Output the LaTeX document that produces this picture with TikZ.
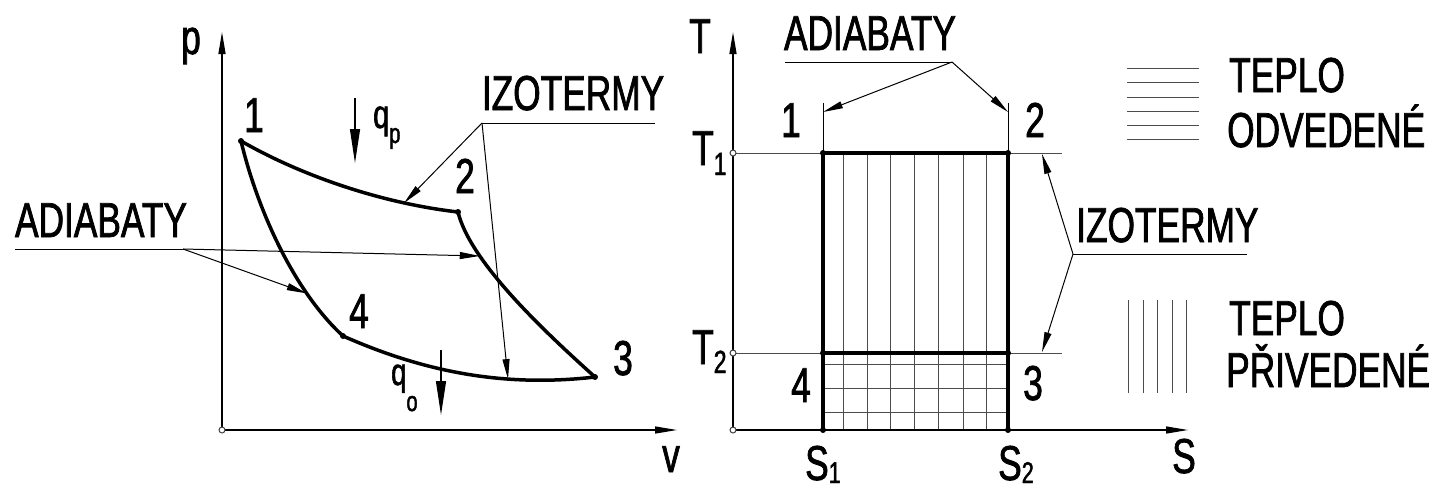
\documentclass[tikz,border=0pt]{standalone}
\usepackage{fontspec}
\setmainfont{Liberation Sans}[FakeStretch=0.72,FakeBold=1.5]
\usetikzlibrary{arrows.meta}
\newcommand\lowsub[3]{\raisebox{#1}[\height][0pt]{\fontsize{#2}{#2}\selectfont #3}}
\begin{document}
\begin{tikzpicture}[x=1pt,y=-1pt,
  lbl/.style={font=\fontsize{49}{55}\selectfont, inner sep=0pt, anchor=base},
  lblw/.style={lbl, anchor=base west},
  axis/.style={line width=1.3pt, -{Triangle[length=22pt,width=7pt]}},
  thinline/.style={line width=1pt},
  cyc/.style={line width=3.5pt, line cap=round},
  lead/.style={line width=1pt, -{Triangle[length=20pt,width=7pt]}},
  flow/.style={line width=1.3pt, -{Triangle[length=34pt,width=10pt]}},
  hatch/.style={line width=1pt, draw=black!70},
  dot/.style={circle, fill=black, inner sep=0pt, minimum size=7pt},
  odot/.style={circle, draw=black!75, fill=white, line width=1pt, inner sep=0pt, minimum size=7pt},
]
\useasboundingbox (0,0) rectangle (1431,488);

% ================= LEFT: p-v diagram =================
\coordinate (O1) at (222,430);
\coordinate (pTop) at (222,32);
\coordinate (vEnd) at (677,430);
\draw[axis] (O1) -- (pTop);
\draw[axis] (O1) -- (vEnd);

\coordinate (L1) at (241,141);
\coordinate (L2) at (458,212);
\coordinate (L3) at (595,377);
\coordinate (L4) at (343,336);

\draw[cyc] (L1) .. controls (300,175) and (380,203) .. (L2) coordinate[pos=0.77] (A12);
\draw[cyc] (L2) .. controls (470,262) and (545,332) .. (L3) coordinate[pos=0.27] (A23);
\draw[cyc] (L1) .. controls (258,212) and (295,292) .. (L4) coordinate[pos=0.73] (A14);
\draw[cyc] (L4) .. controls (420,370) and (500,388) .. (L3) coordinate[pos=0.68] (A43);

\node[odot, minimum size=6pt] (o1) at (O1) {};
\foreach \p in {L1,L2,L3,L4} \node[dot, minimum size=6pt] at (\p) {};

% leaders IZOTERMY (left)
\coordinate (K1) at (482,123);
\coordinate (K1e) at (655,123);
\draw[thinline] (K1) -- (K1e);
\draw[lead] (K1) -- (A12);
\draw[lead] (K1) -- (A43);
\node[lbl] (izoL) at (573,110) {IZOTERMY};

% leaders ADIABATY (left)
\coordinate (K2) at (183,249);
\coordinate (K2s) at (15,249);
\draw[thinline] (K2s) -- (K2);
\draw[lead] (K2) -- (A23);
\draw[lead] (K2) -- (A14);
\node[lbl] (adiL) at (101,237) {ADIABATY};

% heat arrows
\coordinate (qpS) at (355,98);
\coordinate (qpE) at (355,163);
\draw[flow] (qpS) -- (qpE);
\coordinate (qoS) at (441,350);
\coordinate (qoE) at (441,415);
\draw[flow] (qoS) -- (qoE);
\node[lblw, font=\fontsize{40}{44}\selectfont] (qp) at (373,128) {q\lowsub{-15pt}{28}{p}};
\node[lblw, font=\fontsize{38}{44}\selectfont] (qo) at (391,385) {q\lowsub{-26pt}{28}{o}};

% labels
\node[lbl] (lp) at (191,54) {p};
\node[lbl] (lv) at (671,472) {v};
\node[lbl] (n1) at (254,132) {1};
\node[lbl] (n2) at (465,193) {2};
\node[lbl] (n3) at (623,375) {3};
\node[lbl] (n4) at (359,328) {4};

% ================= RIGHT: T-s diagram =================
\coordinate (O2) at (733,430);
\coordinate (tTop) at (733,32);
\coordinate (sEnd) at (1188,430);

\coordinate (T1a) at (733,153);
\coordinate (T1b) at (1062,153);
\coordinate (T2a) at (733,353);
\coordinate (T2b) at (1062,353);
\draw[hatch] (T1a) -- (T1b);
\draw[hatch] (T2a) -- (T2b);

\coordinate (R1) at (823,153);
\coordinate (R2) at (1008,153);
\coordinate (R3) at (1008,353);
\coordinate (R4) at (823,353);
\coordinate (B1) at (823,430);
\coordinate (B2) at (1008,430);
\coordinate (E1) at (823,103);
\coordinate (E2) at (1008,103);
\draw[thinline] (E1) -- (R1);
\draw[thinline] (E2) -- (R2);

% hatching: vertical (heat supplied) and horizontal (heat removed)
\foreach \x in {843,867,890,914,938,963,986}
  \draw[hatch] (\x,153) -- (\x,430);
\foreach \y in {364,388,412}
  \draw[hatch] (823,\y) -- (1008,\y);

\draw[axis] (O2) -- (tTop);
\draw[axis] (O2) -- (sEnd);

\draw[cyc, line cap=butt] (B1) -- (R1) -- (R2) -- (B2);
\draw[cyc, line cap=butt] (R4) -- (R3);

\foreach \p in {R1,R2,R3,R4,B1,B2} \node[dot, minimum size=6pt] at (\p) {};
\node[odot, minimum size=6pt] (o2) at (O2) {};
\node[odot, minimum size=6pt] (oT1) at (T1a) {};
\node[odot, minimum size=6pt] (oT2) at (T2a) {};

% leaders ADIABATY (right)
\coordinate (K3) at (952,62);
\coordinate (K3s) at (785,62);
\coordinate (H1) at (823,112);
\coordinate (H2) at (1008,112);
\draw[thinline] (K3s) -- (K3);
\draw[lead] (K3) -- (H1);
\draw[lead] (K3) -- (H2);
\node[lbl] (adiR) at (870,50) {ADIABATY};

% leaders IZOTERMY (right)
\coordinate (K4) at (1073,254);
\coordinate (K4e) at (1247,254);
\coordinate (I1) at (1042,154);
\coordinate (I2) at (1042,352);
\draw[thinline] (K4) -- (K4e);
\draw[lead] (K4) -- (I1);
\draw[lead] (K4) -- (I2);
\node[lblw] (izoR) at (1076,242) {IZOTERMY};

% labels
\node[lbl] (lT) at (700,53) {T};
\node[lbl] (lS) at (1184,473) {S};
\node[lblw] (lT1) at (692,165) {T\lowsub{-10pt}{32}{1}};
\node[lblw] (lT2) at (692,364) {T\lowsub{-9pt}{32}{2}};
\node[lblw] (lS1) at (805,480) {S\lowsub{-3pt}{30}{1}};
\node[lblw] (lS2) at (998,480) {S\lowsub{-3pt}{30}{2}};
\node[lbl] (m1) at (791,137) {1};
\node[lbl] (m2) at (1035,137) {2};
\node[lbl] (m3) at (1033,400) {3};
\node[lbl] (m4) at (801,402) {4};

% ================= LEGEND =================
\foreach \y in {68,82.5,97,111,125,139.5}
  \draw[hatch] (1127,\y) -- (1199,\y);
\foreach \x in {1128,1143,1157,1172,1186}
  \draw[hatch] (\x,300) -- (\x,393);
\node[lblw] (t1) at (1229,92) {TEPLO};
\node[lblw] (t2) at (1227,147) {ODVEDENÉ};
\node[lblw] (t3) at (1229,335) {TEPLO};
\node[lblw] (t4) at (1226,387) {PŘIVEDENÉ};
\end{tikzpicture}
\end{document}
